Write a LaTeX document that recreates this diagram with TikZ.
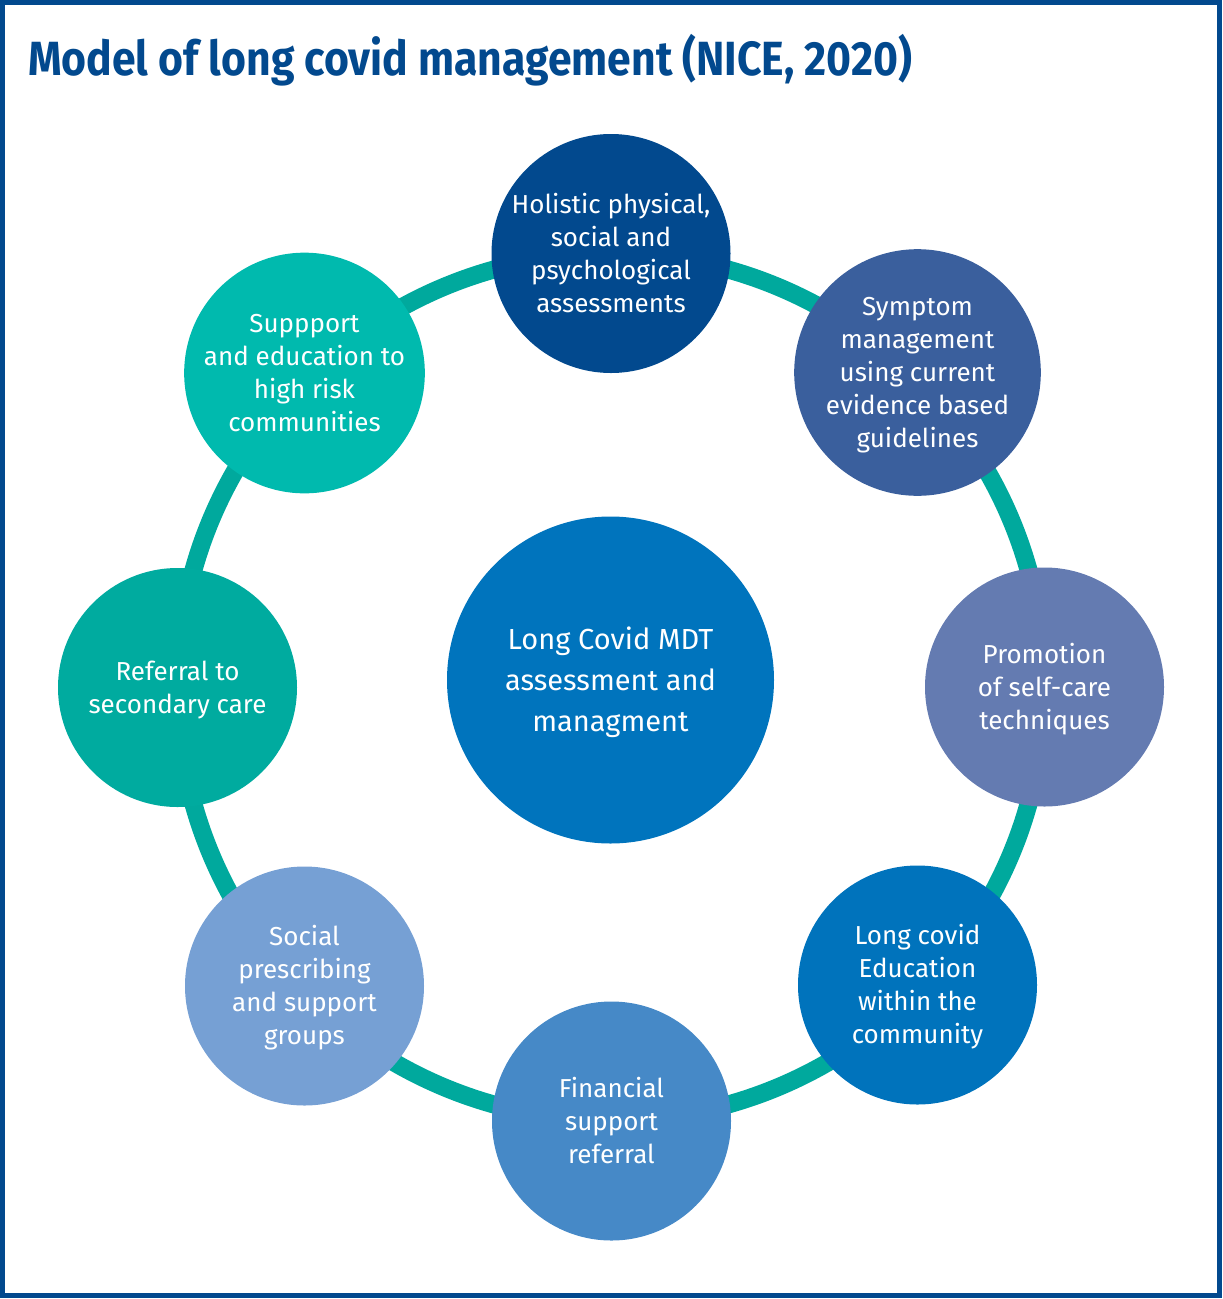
\documentclass[tikz,border=0pt]{standalone}
\usepackage{fontspec}
\setmainfont{Fira Sans}
\usepackage{graphicx}
\definecolor{navy}{HTML}{02498E}
\definecolor{csym}{HTML}{3A5F9D}
\definecolor{cpro}{HTML}{647BB1}
\definecolor{cedu}{HTML}{0073BC}
\definecolor{cfin}{HTML}{4689C7}
\definecolor{csoc}{HTML}{76A0D4}
\definecolor{cref}{HTML}{00AB9F}
\definecolor{csup}{HTML}{00BAAE}
\definecolor{cring}{HTML}{00A99D}
\definecolor{cmdt}{HTML}{0074BD}
\newcommand\ctext[2]{\raisebox{#1}[\height][\depth]{\begin{tabular}{@{}c@{}}#2\end{tabular}}}
\tikzset{
  bubble/.style={circle, inner sep=0pt, minimum size=239pt, text=white,
    font=\fontsize{26}{33}\selectfont},
  bigbubble/.style={circle, inner sep=0pt, minimum size=327pt, text=white,
    font=\fontsize{29}{41}\selectfont},
}
\begin{document}
\begin{tikzpicture}[x=1pt,y=-1pt]
\useasboundingbox (0,0) rectangle (1223,1299);
\draw[navy, line width=4.5pt] (2.25,2.5) rectangle (1219.5,1295.5);
\node[anchor=base west, inner sep=0pt, text=navy, font=\fontsize{48}{56}\bfseries\selectfont] (title) at (28,75)
  {\resizebox{884pt}{\height}{Model of long covid management (NICE, 2020)}};
\coordinate (ringc) at (611,687);
\draw[cring, line width=18pt] (ringc) circle[radius=433.5pt];
\node[bubble, fill=navy] (hol) at (611,253.5) {\ctext{-2.4pt}{Holistic physical,\\social and\\psychological\\assessments}};
\node[bubble, fill=csym] (sym) at (917.5,372.5) {\ctext{-2.4pt}{Symptom\\management\\using current\\evidence based\\guidelines}};
\node[bubble, fill=cpro] (pro) at (1044.5,687) {\ctext{-2.4pt}{Promotion\\of self-care\\techniques}};
\node[bubble, fill=cedu] (edu) at (917.5,985) {\ctext{-2.4pt}{Long covid\\Education\\within the\\community}};
\node[bubble, fill=cfin] (fin) at (611.5,1121) {\ctext{-2.4pt}{Financial\\support\\referral}};
\node[bubble, fill=csoc] (soc) at (304.5,986) {\ctext{-2.4pt}{Social\\prescribing\\and support\\groups}};
\node[bubble, fill=cref] (ref) at (177.5,687.5) {\ctext{-2.4pt}{Referral to\\secondary care}};
\node[bubble, fill=csup] (sup) at (304.5,373) {\ctext{-2.4pt}{Suppport\\and education to\\high risk\\communities}};
\node[bigbubble, fill=cmdt] (mdt) at (610.5,680) {\ctext{-1.8pt}{Long Covid MDT\\assessment and\\managment}};
\end{tikzpicture}
\end{document}
